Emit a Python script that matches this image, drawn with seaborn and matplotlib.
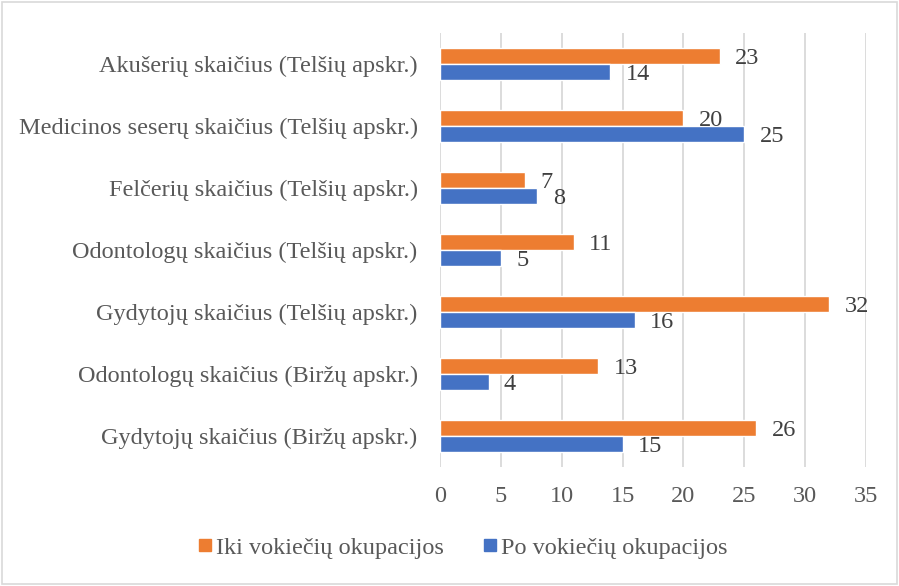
import matplotlib
matplotlib.use("Agg")
import matplotlib.pyplot as plt
from matplotlib.lines import Line2D
from matplotlib.patches import Rectangle
import seaborn as sns
import pandas as pd

categories = [
    "Akušerių skaičius (Telšių apskr.)",
    "Medicinos seserų skaičius (Telšių apskr.)",
    "Felčerių skaičius (Telšių apskr.)",
    "Odontologų skaičius (Telšių apskr.)",
    "Gydytojų skaičius (Telšių apskr.)",
    "Odontologų skaičius (Biržų apskr.)",
    "Gydytojų skaičius (Biržų apskr.)",
]
iki_values = [23, 20, 7, 11, 32, 13, 26]
po_values = [14, 25, 8, 5, 16, 4, 15]
series_names = ["Iki vokiečių okupacijos", "Po vokiečių okupacijos"]
x_ticks = [0, 5, 10, 15, 20, 25, 30, 35]

colors = {"Iki vokiečių okupacijos": "#ED7D31", "Po vokiečių okupacijos": "#4472C4"}

df = pd.DataFrame({
    "cat": categories * 2,
    "val": iki_values + po_values,
    "series": [series_names[0]] * len(categories) + [series_names[1]] * len(categories),
})

sns.set_style("white")
plt.rcParams["font.family"] = ["Liberation Serif", "DejaVu Serif"]

fig = plt.figure(figsize=(8.99, 5.86), dpi=100)
ax = fig.add_axes([0.4894, 0.203, 0.4739, 0.7407])

sns.barplot(data=df, y="cat", x="val", hue="series", order=categories,
            hue_order=series_names, palette=colors, orient="h", width=0.52,
            ax=ax, legend=False, saturation=1)

for cont in ax.containers:
    labels = ax.bar_label(cont, padding=11, fontsize=17.5, color="#404040")
    for lb in labels:
        x0, y0 = lb.xyann
        lb.xyann = (x0, y0 - 1.5)

ax.set_xlim(0, 35)
ax.set_ylim(6.5, -0.5)
ax.set_xticks(x_ticks)
ax.set_xticklabels([str(t) for t in x_ticks])
ax.xaxis.grid(True, color="#d9d9d9", linewidth=1.3)
ax.yaxis.grid(False)
ax.set_axisbelow(True)
for s in ax.spines.values():
    s.set_visible(False)
ax.tick_params(axis="both", length=0, labelsize=17.5, colors="#595959")
ax.tick_params(axis="y", pad=16)
ax.tick_params(axis="x", pad=14)
ax.set_xlabel("")
ax.set_ylabel("")

handles = [Line2D([0], [0], marker="s", linestyle="none", markersize=8,
                  markerfacecolor=colors[n], markeredgecolor=colors[n]) for n in series_names]
leg = fig.legend(handles, series_names, loc="center", bbox_to_anchor=(0.513, 0.065),
                 ncol=2, frameon=False, fontsize=17.5, handletextpad=0.05,
                 columnspacing=1.5, handlelength=0.8)
for t in leg.get_texts():
    t.set_color("#595959")

fig.patches.append(Rectangle((0.002, 0.003), 0.996, 0.994, transform=fig.transFigure,
                             fill=False, edgecolor="#d9d9d9", linewidth=1.2))

fig.savefig("out.png", dpi=100)
